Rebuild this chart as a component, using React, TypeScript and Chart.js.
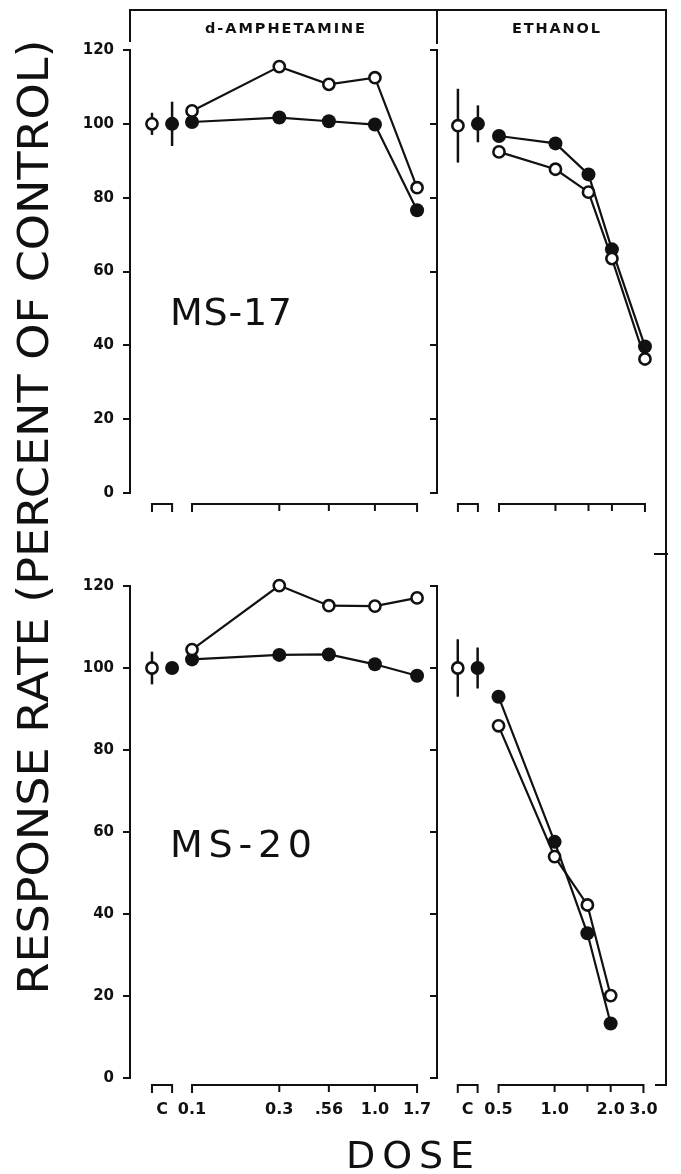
import React, { useEffect, useRef } from "react";
import { Chart, registerables } from "chart.js";

Chart.register(...registerables);

// ---------------- data ----------------
const AMPH_DOSES = [0.1, 0.3, 0.56, 1.0, 1.7];
const AMPH_LABEL_DOSES = [0.1, 0.3, 0.56, 1.0, 1.7];
const AMPH_TICK_LABELS = ["C", "0.1", "0.3", ".56", "1.0", "1.7"];

const ETOH_DOSES = [0.5, 1.0, 1.5, 2.0, 3.0];
const ETOH_LABEL_DOSES = [0.5, 1.0, 2.0, 3.0];
const ETOH_TICK_LABELS = ["C", "0.5", "1.0", "2.0", "3.0"];

const Y_MIN = 0;
const Y_MAX = 120;
const Y_STEP = 20;

// MS-17, d-amphetamine
const MS17_AMPH_OPEN = [103.5, 115.5, 110.7, 112.5, 82.7];
const MS17_AMPH_FILLED = [100.5, 101.7, 100.7, 99.8, 76.6];
const MS17_AMPH_CTRL = [100, 100]; // open, filled
const MS17_AMPH_CTRL_ERR = [3, 6];

// MS-17, ethanol
const MS17_ETOH_OPEN = [92.4, 87.7, 81.5, 63.5, 36.3];
const MS17_ETOH_FILLED = [96.7, 94.7, 86.3, 66.0, 39.7];
const MS17_ETOH_CTRL = [99.5, 100];
const MS17_ETOH_CTRL_ERR = [10, 5];

// MS-20, d-amphetamine
const MS20_AMPH_OPEN = [104.5, 120.1, 115.2, 115.1, 117.1];
const MS20_AMPH_FILLED = [102.1, 103.2, 103.3, 100.9, 98.1];
const MS20_AMPH_CTRL = [100, 100];
const MS20_AMPH_CTRL_ERR = [4, 0];

// MS-20, ethanol
const MS20_ETOH_DOSES = [0.5, 1.0, 1.5, 2.0];
const MS20_ETOH_OPEN = [85.9, 54.0, 42.2, 20.1];
const MS20_ETOH_FILLED = [93.0, 57.6, 35.3, 13.3];
const MS20_ETOH_CTRL = [100, 100];
const MS20_ETOH_CTRL_ERR = [7, 5];

// where the control ("C") marks sit on each dose axis (open, filled)
const AMPH_CTRL_X = [0.0604, 0.0778];
const ETOH_CTRL_X = [0.302, 0.386];

// dose-axis ranges
const AMPH_X_RANGE = [0.0458, 2.185];
const ETOH_X_RANGE = [0.2336, 3.884];

// ---------------- layout ----------------
const W = 681;
const H = 1174;
const INK = "#111";
const COL_L = { left: 130, right: 437 };
const COL_R = { left: 437, right: 666 };
const ROW_T = { top: 50, bottom: 543 };
const ROW_B = { top: 586, bottom: 1078 };
const X_AXIS_H = 50;
const FRAME = { left: 130, right: 666, top: 10, divider: 437, hdrL: 42, hdrD: 44, midTick: 554, bottom: 1085 };

type Panel = {
  doses: number[];
  open: number[];
  filled: number[];
  ctrl: number[];
  ctrlErr: number[];
  ctrlX: number[];
  xRange: number[];
  labelDoses: number[];
  tickLabels: string[];
  bracketDoses: number[];
  col: { left: number; right: number };
  row: { top: number; bottom: number };
  xLabels: boolean;
  yLabels: boolean;
  bracketOffset: number;
  frame: boolean;
};

const PANELS: Panel[] = [
  {
    doses: AMPH_DOSES, open: MS17_AMPH_OPEN, filled: MS17_AMPH_FILLED,
    ctrl: MS17_AMPH_CTRL, ctrlErr: MS17_AMPH_CTRL_ERR, ctrlX: AMPH_CTRL_X,
    xRange: AMPH_X_RANGE, labelDoses: AMPH_LABEL_DOSES, tickLabels: AMPH_TICK_LABELS,
    bracketDoses: AMPH_DOSES, col: COL_L, row: ROW_T, xLabels: false, yLabels: true,
    bracketOffset: 11, frame: true,
  },
  {
    doses: ETOH_DOSES, open: MS17_ETOH_OPEN, filled: MS17_ETOH_FILLED,
    ctrl: MS17_ETOH_CTRL, ctrlErr: MS17_ETOH_CTRL_ERR, ctrlX: ETOH_CTRL_X,
    xRange: ETOH_X_RANGE, labelDoses: ETOH_LABEL_DOSES, tickLabels: ETOH_TICK_LABELS,
    bracketDoses: ETOH_DOSES, col: COL_R, row: ROW_T, xLabels: false, yLabels: false,
    bracketOffset: 11, frame: false,
  },
  {
    doses: AMPH_DOSES, open: MS20_AMPH_OPEN, filled: MS20_AMPH_FILLED,
    ctrl: MS20_AMPH_CTRL, ctrlErr: MS20_AMPH_CTRL_ERR, ctrlX: AMPH_CTRL_X,
    xRange: AMPH_X_RANGE, labelDoses: AMPH_LABEL_DOSES, tickLabels: AMPH_TICK_LABELS,
    bracketDoses: AMPH_DOSES, col: COL_L, row: ROW_B, xLabels: true, yLabels: true,
    bracketOffset: 7, frame: false,
  },
  {
    doses: MS20_ETOH_DOSES, open: MS20_ETOH_OPEN, filled: MS20_ETOH_FILLED,
    ctrl: MS20_ETOH_CTRL, ctrlErr: MS20_ETOH_CTRL_ERR, ctrlX: ETOH_CTRL_X,
    xRange: ETOH_X_RANGE, labelDoses: ETOH_LABEL_DOSES, tickLabels: ETOH_TICK_LABELS,
    bracketDoses: ETOH_DOSES, col: COL_R, row: ROW_B, xLabels: true, yLabels: false,
    bracketOffset: 7, frame: false,
  },
];

const FONT_FAMILY = "'DejaVu Sans', Verdana, sans-serif";

const bracketPlugin = (p: Panel) => ({
  id: "brackets",
  afterDraw(chart: any) {
    const ctx = chart.ctx;
    const xs = chart.scales.x;
    const y0 = chart.chartArea.bottom + p.bracketOffset;
    const tick = 8;
    ctx.save();
    ctx.strokeStyle = INK;
    ctx.lineWidth = 2;
    const draw = (vals: number[]) => {
      const px = vals.map((v) => xs.getPixelForValue(v));
      ctx.beginPath();
      ctx.moveTo(px[0], y0 + tick);
      ctx.lineTo(px[0], y0);
      ctx.lineTo(px[px.length - 1], y0);
      ctx.lineTo(px[px.length - 1], y0 + tick);
      for (let i = 1; i < px.length - 1; i++) {
        ctx.moveTo(px[i], y0);
        ctx.lineTo(px[i], y0 + tick - 1);
      }
      ctx.stroke();
    };
    draw(p.ctrlX);
    draw(p.bracketDoses);
    ctx.restore();
  },
});

const framePlugin = {
  id: "frame",
  afterDraw(chart: any) {
    const ctx = chart.ctx;
    ctx.save();
    ctx.strokeStyle = INK;
    ctx.lineWidth = 2;
    ctx.beginPath();
    ctx.moveTo(FRAME.left, FRAME.hdrL);
    ctx.lineTo(FRAME.left, FRAME.top);
    ctx.lineTo(FRAME.right, FRAME.top);
    ctx.lineTo(FRAME.right, FRAME.bottom);
    ctx.lineTo(FRAME.right - 11, FRAME.bottom);
    ctx.moveTo(FRAME.divider, FRAME.top);
    ctx.lineTo(FRAME.divider, FRAME.hdrD);
    ctx.moveTo(FRAME.right - 12, FRAME.midTick);
    ctx.lineTo(FRAME.right + 2, FRAME.midTick);
    ctx.stroke();
    ctx.restore();
  },
};

function buildConfig(p: Panel): any {
  const pts = (xs: number[], ys: number[]) => ys.map((y, i) => ({ x: xs[i], y }));
  const openStyle = {
    borderColor: INK, pointBackgroundColor: "#fff", pointBorderColor: INK,
    pointBorderWidth: 2.6, pointRadius: 5.6,
  };
  const filledStyle = {
    borderColor: INK, pointBackgroundColor: INK, pointBorderColor: INK,
    pointBorderWidth: 0, pointRadius: 7,
  };
  const datasets: any[] = [
    { ...openStyle, data: pts(p.doses, p.open), borderWidth: 2.2, order: 1 },
    { ...filledStyle, data: pts(p.doses, p.filled), borderWidth: 2.2, order: 2 },
    { ...openStyle, data: [{ x: p.ctrlX[0], y: p.ctrl[0] }], showLine: false, order: 1 },
    { ...filledStyle, data: [{ x: p.ctrlX[1], y: p.ctrl[1] }], showLine: false, order: 2 },
  ];
  p.ctrlErr.forEach((e, i) => {
    if (e > 0) {
      datasets.push({
        data: [
          { x: p.ctrlX[i], y: p.ctrl[i] - e },
          { x: p.ctrlX[i], y: p.ctrl[i] + e },
        ],
        borderColor: INK, borderWidth: 2.5, pointRadius: 0, order: 3,
      });
    }
  });
  datasets.forEach((d) => {
    d.clip = false;
    d.tension = 0;
    d.fill = false;
    d.pointHoverRadius = d.pointRadius;
  });

  const yWidth = p.yLabels ? 60 : 8;
  const ctrlTick = Math.sqrt(p.ctrlX[0] * p.ctrlX[1]);
  const tickValues = [ctrlTick, ...p.labelDoses];

  return {
    type: "line",
    data: { datasets },
    plugins: p.frame ? [bracketPlugin(p), framePlugin] : [bracketPlugin(p)],
    options: {
      animation: false,
      responsive: false,
      events: [],
      layout: {
        padding: {
          left: p.col.left - yWidth,
          right: W - p.col.right,
          top: p.row.top,
          bottom: H - p.row.bottom - (p.xLabels ? X_AXIS_H : 0),
        },
      },
      plugins: {
        legend: { display: false },
        tooltip: { enabled: false },
        title: { display: false },
      },
      scales: {
        x: {
          type: "logarithmic",
          min: p.xRange[0],
          max: p.xRange[1],
          bounds: "data",
          display: p.xLabels,
          afterBuildTicks: (s: any) => {
            s.ticks = tickValues.map((v) => ({ value: v }));
          },
          afterFit: (s: any) => {
            s.height = X_AXIS_H;
          },
          grid: { display: false, drawTicks: false },
          border: { display: false },
          ticks: {
            autoSkip: false,
            maxRotation: 0,
            minRotation: 0,
            padding: 22,
            color: INK,
            font: { family: FONT_FAMILY, weight: "bold", size: 16 },
            callback: (_v: any, i: number) => p.tickLabels[i],
          },
        },
        y: {
          type: "linear",
          min: Y_MIN,
          max: Y_MAX,
          afterFit: (s: any) => {
            s.width = yWidth;
          },
          ticks: {
            stepSize: Y_STEP,
            display: p.yLabels,
            padding: 9,
            color: INK,
            font: { family: FONT_FAMILY, weight: "bold", size: 15 },
          },
          grid: {
            drawOnChartArea: false,
            drawTicks: true,
            tickLength: 7,
            lineWidth: 2,
            color: INK,
          },
          border: { display: true, width: 2, color: INK },
        },
      },
    },
  };
}

function PanelCanvas({ panel }: { panel: Panel }) {
  const ref = useRef<HTMLCanvasElement>(null);
  useEffect(() => {
    const chart = new Chart(ref.current as HTMLCanvasElement, buildConfig(panel));
    return () => chart.destroy();
  }, [panel]);
  return (
    <canvas
      ref={ref}
      width={W}
      height={H}
      style={{ position: "absolute", left: 0, top: 0, width: W, height: H, display: "block" }}
    />
  );
}

export default function App() {
  return (
    <div
      style={{
        position: "absolute",
        left: 0,
        top: 0,
        width: W,
        height: H,
        background: "#fff",
        overflow: "hidden",
      }}
    >
      {PANELS.map((p, i) => (
        <PanelCanvas key={i} panel={p} />
      ))}
      <svg
        width={W}
        height={H}
        style={{ position: "absolute", left: 0, top: 0, pointerEvents: "none" }}
        fontFamily={FONT_FAMILY}
        fill={INK}
      >
        <text x={285} y={33} fontSize={14.5} fontWeight="bold" textAnchor="middle" textLength={160} lengthAdjust="spacing">
          d-AMPHETAMINE
        </text>
        <text x={556} y={33} fontSize={14.5} fontWeight="bold" textAnchor="middle" textLength={88} lengthAdjust="spacing">
          ETHANOL
        </text>
        <text x={170} y={325} fontSize={38} textLength={122} lengthAdjust="spacing">
          MS-17
        </text>
        <text x={170} y={857} fontSize={38} textLength={142} lengthAdjust="spacing">
          MS-20
        </text>
        <text x={410} y={1168} fontSize={38} textAnchor="middle" textLength={128} lengthAdjust="spacing">
          DOSE
        </text>
        <text
          transform="translate(48,517) rotate(-90)"
          fontSize={43}
          textAnchor="middle"
          textLength={955}
          lengthAdjust="spacingAndGlyphs"
        >
          RESPONSE RATE (PERCENT OF CONTROL)
        </text>
      </svg>
    </div>
  );
}
